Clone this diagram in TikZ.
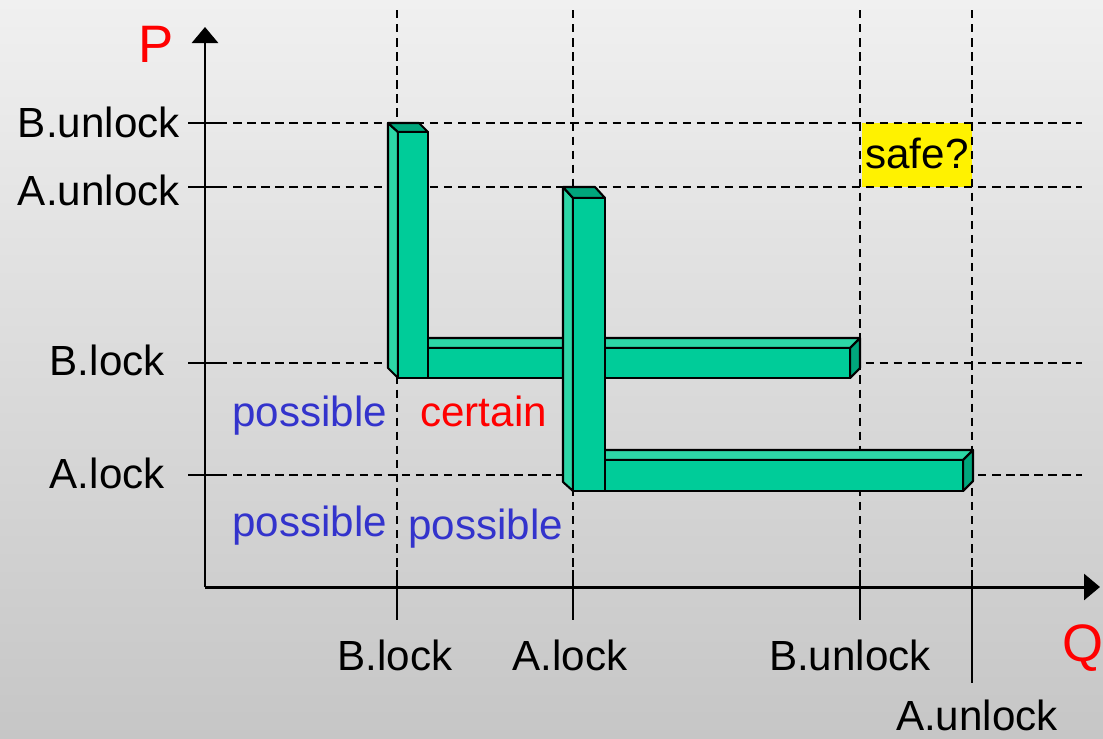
\documentclass[tikz,border=0pt]{standalone}
\usepackage{fontspec}
\setmainfont{Liberation Sans}
\usetikzlibrary{arrows.meta}

\definecolor{barfront}{RGB}{0,204,153}
\definecolor{barlight}{RGB}{45,214,166}
\definecolor{bardark}{RGB}{0,166,124}
\definecolor{possblue}{RGB}{51,51,204}
\definecolor{bgtop}{RGB}{240,240,240}
\definecolor{bgbottom}{RGB}{198,198,198}

\tikzset{
  gridline/.style={line width=1.3pt, dash pattern=on 4.8pt off 3.2pt},
  tickline/.style={line width=1.6pt},
  axisline/.style={line width=1.7pt, -{Triangle[length=0.32cm,width=0.52cm]}},
  face/.style={draw=black, line width=1.2pt, line join=round},
  lab/.style={inner sep=0pt, font=\fontsize{24}{28}\selectfont},
}

\begin{document}
\begin{tikzpicture}[x=0.02cm,y=-0.02cm]
 \def\xaxis{587}
 \def\yaxis{205}

    % Background
    \useasboundingbox (0,0) rectangle (1103,738);
    \shade[top color=bgtop, bottom color=bgbottom] (0,0) rectangle (1103,738);

    \node[fill=yellow, inner sep=0pt, minimum width=2.2cm, minimum height=1.28cm] (safe) at (917,155) {};
    \node[lab, anchor=base] (safetext) at (917,168) {safe?};

    % Grid
    \foreach \y in {123,187,363,475} {
      \draw[gridline] (\yaxis,\y) -- (1082,\y);
      \draw[tickline] (188,\y) -- (222,\y);
    }
    \foreach \x in {397,573,860} {
      \draw[gridline] (\x,10) -- (\x,\xaxis);
      \draw[tickline] (\x,570) -- (\x,620);
    }
    \draw[gridline] (972,10) -- (972,\xaxis);
    \draw[tickline] (972,570) -- (972,683);

    %Axes
    \draw[axisline] (\yaxis,\xaxis) -- (\yaxis,27);
    \draw[axisline] (\yaxis,\xaxis) -- (1100,\xaxis);
    \node[lab, red, font=\fontsize{30}{34}\selectfont, anchor=base west] (P) at (138,62) {P};
    \node[lab, red, font=\fontsize{30}{34}\selectfont, anchor=base west] (Q) at (1062,661) {Q};

    % Bar B, horizontal part
    \draw[face, fill=barlight] (420,348) -- (420,338) -- (860,338) -- (850,348) -- cycle;
    \draw[face, fill=bardark] (850,348) -- (860,338) -- (860,368) -- (850,378) -- cycle;
    \draw[face, fill=barfront] (420,348) rectangle (850,378);
    % Bar B, vertical part
    \draw[face, fill=barlight] (388,123) -- (398,132) -- (398,378) -- (388,368) -- cycle;
    \draw[face, fill=bardark] (388,123) -- (419,123) -- (428,132) -- (398,132) -- cycle;
    \draw[face, fill=barfront] (398,132) rectangle (428,378);

    % Bar A, horizontal part
    \draw[face, fill=barlight] (600,460) -- (600,450) -- (973,450) -- (963,460) -- cycle;
    \draw[face, fill=bardark] (963,460) -- (973,450) -- (973,481) -- (963,491) -- cycle;
    \draw[face, fill=barfront] (600,460) rectangle (963,491);
    % Bar A, vertical part
    \draw[face, fill=barlight] (563,187) -- (573,198) -- (573,491) -- (563,482) -- cycle;
    \draw[face, fill=bardark] (563,187) -- (595,187) -- (605,198) -- (573,198) -- cycle;
    \draw[face, fill=barfront] (573,198) rectangle (605,491);

    % P labels
    \node[lab, anchor=base east] (pBunlock) at (180,137) {B.unlock};
    \node[lab, anchor=base east] (pAunlock) at (180,205) {A.unlock};
    \node[lab, anchor=base east] (pBlock) at (165,375) {B.lock};
    \node[lab, anchor=base east] (pAlock) at (165,488) {A.lock};

    % Q labels
    \node[lab, anchor=base] (qBlock) at (395,670) {B.lock};
    \node[lab, anchor=base] (qAlock) at (570,670) {A.lock};
    \node[lab, anchor=base] (qBunlock) at (850,670) {B.unlock};
    \node[lab, anchor=base] (qAunlock) at (977,730) {A.unlock};

    % regions
    \node[lab, possblue, anchor=base west] (poss1) at (232,426) {possible};
    \node[lab, red, anchor=base west] (cert) at (420,426) {certain};
    \node[lab, possblue, anchor=base west] (poss2) at (232,536) {possible};
    \node[lab, possblue, anchor=base west] (poss3) at (408,539) {possible};
\end{tikzpicture}
\end{document}
